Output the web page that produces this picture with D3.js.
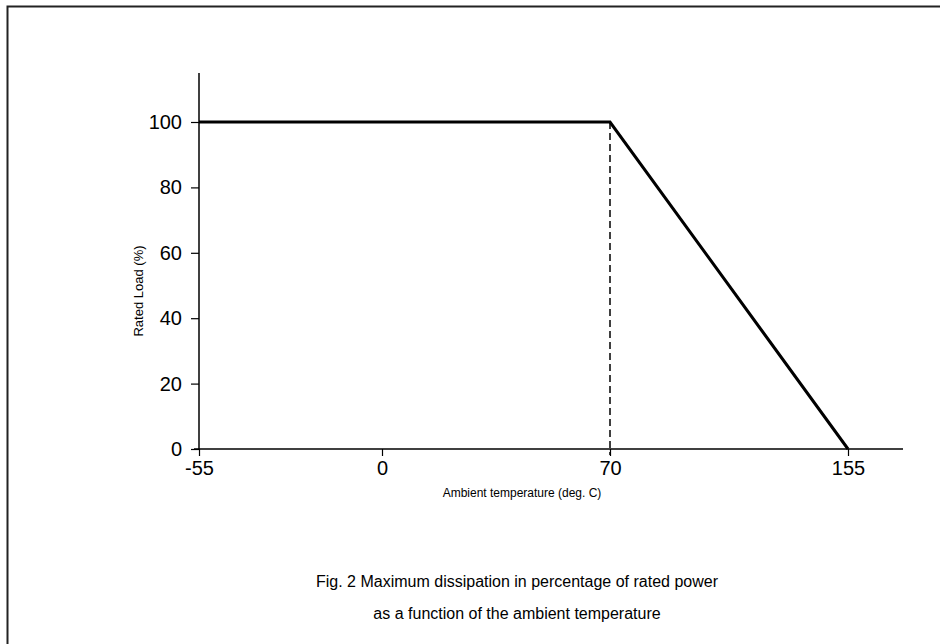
<!DOCTYPE html>
<html>
<head>
<meta charset="utf-8">
<script src="https://cdn.jsdelivr.net/npm/d3@7"></script>
<style>
  body { margin: 0; background: #fff; }
  svg { display: block; font-family: "Liberation Sans", Arial, sans-serif; }
  .tick text { fill: #000; }
</style>
</head>
<body>
<svg id="chart" width="940" height="644"></svg>
<script>
// temperatures (deg. C) shown on the x axis
var tempTicks = [-55, 0, 70, 155];
var loadTicks = [0, 20, 40, 60, 80, 100];

// derating curve
var curveTemp = [-55, 70, 155];
var curveLoad = [100, 100, 0];

// knee of the curve
var kneeTemp = 70;

var captionLines = [
  "Fig. 2 Maximum dissipation in percentage of rated power",
  "as a function of the ambient temperature"
];

var svg = d3.select("#chart");

// frame (only top/left edges are in view)
svg.append("rect")
  .attr("x", 7.5).attr("y", 6.5)
  .attr("width", 960).attr("height", 660)
  .attr("fill", "none")
  .attr("stroke", "#222")
  .attr("stroke-width", 2);

/* Scales - the drawing isn't quite linear so use a polylinear scale */
var x = d3.scaleLinear()
  .domain(tempTicks)
  .range([199, 382, 610, 848]);

var y = d3.scaleLinear()
  .domain([0, 100])
  .range([449, 122]);

var plot = svg.append("g").attr("id", "plot");

// axes lines drawn a bit longer than the data range
plot.append("line")
  .attr("x1", x(-55) - 5).attr("x2", 903)
  .attr("y1", y(0)).attr("y2", y(0))
  .attr("stroke", "#000").attr("stroke-width", 1.5);

plot.append("line")
  .attr("x1", x(-55)).attr("x2", x(-55))
  .attr("y1", y(0)).attr("y2", y(115))
  .attr("stroke", "#000").attr("stroke-width", 1.5);

var xAxis = d3.axisBottom(x)
  .tickValues(tempTicks)
  .tickFormat(function(d) { return String(d); })
  .tickSize(7)
  .tickPadding(5);

var yAxis = d3.axisLeft(y)
  .tickValues(loadTicks)
  .tickFormat(function(d) { return String(d); })
  .tickSize(8)
  .tickPadding(9);

var gx = plot.append("g")
  .attr("transform", "translate(0," + y(0) + ")")
  .call(xAxis);

var gy = plot.append("g")
  .attr("transform", "translate(" + x(-55) + ",0)")
  .call(yAxis);

[gx, gy].forEach(function(g) {
  g.select(".domain").remove();
  g.selectAll(".tick line").attr("stroke", "#000").attr("stroke-width", 1.2);
  g.selectAll(".tick text").attr("font-size", 20).attr("font-family", "Liberation Sans, Arial, sans-serif");
});

// dashed drop line at the knee
plot.append("line")
  .attr("x1", x(kneeTemp)).attr("x2", x(kneeTemp))
  .attr("y1", y(100)).attr("y2", y(0) + 6)
  .attr("stroke", "#000")
  .attr("stroke-width", 1.5)
  .attr("stroke-dasharray", "7,4");

var pts = curveTemp.map(function(t, i) { return [t, curveLoad[i]]; });

var valueline = d3.line()
  .x(function(d) { return x(d[0]); })
  .y(function(d) { return y(d[1]); });

plot.append("path")
  .attr("d", valueline(pts))
  .attr("fill", "none")
  .attr("stroke", "#000")
  .attr("stroke-width", 3);

// axis titles
svg.append("text")
  .attr("x", 522).attr("y", 497)
  .attr("text-anchor", "middle")
  .attr("font-size", 12)
  .text("Ambient temperature (deg. C)");

svg.append("text")
  .attr("transform", "translate(143,291) rotate(-90)")
  .attr("text-anchor", "middle")
  .attr("font-size", 13)
  .text("Rated Load (%)");

svg.selectAll("text.caption")
  .data(captionLines)
  .enter().append("text")
  .attr("class", "caption")
  .attr("x", 517)
  .attr("y", function(d, i) { return 587 + i * 32; })
  .attr("text-anchor", "middle")
  .attr("font-size", 16)
  .text(function(d) { return d; });
</script>
</body>
</html>
